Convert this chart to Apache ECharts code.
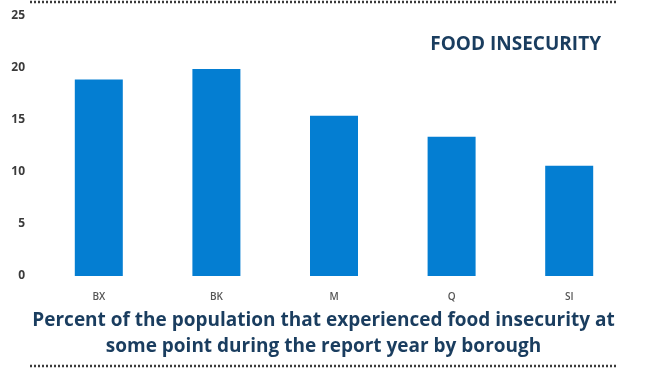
<!DOCTYPE html>
<html>
<head>
<meta charset="utf-8">
<script src="https://cdn.jsdelivr.net/npm/echarts@6/dist/echarts.min.js"></script>
<style>
  html, body { margin: 0; padding: 0; background: #ffffff; }
  #chart { width: 647px; height: 370px; }
</style>
</head>
<body>
<div id="chart"></div>
<script>
// Boroughs and the share of residents who were food insecure (%)
const boroughs = ['BX', 'BK', 'M', 'Q', 'SI'];
const insecurityPct = [18.9, 19.9, 15.4, 13.4, 10.6];

const titleText = 'FOOD INSECURITY';
const captionLines = [
  'Percent of the population that experienced food insecurity at',
  'some point during the report year by borough'
];

const navy = '#1a3d5f';
const chart = echarts.init(document.getElementById('chart'));

chart.setOption({
  backgroundColor: '#ffffff',
  animation: false,
  grid: { left: 40, right: 19, top: 16, bottom: 94 },
  title: {
    text: titleText,
    right: 41,
    top: 30,
    textStyle: {
      fontFamily: 'Open Sans',
      fontWeight: 700,
      fontSize: 19,
      color: navy
    }
  },
  xAxis: {
    type: 'category',
    data: boroughs,
    axisLine: { show: false },
    axisTick: { show: false },
    axisLabel: {
      margin: 16,
      fontFamily: 'Open Sans',
      fontWeight: 600,
      fontSize: 10,
      color: '#555'
    }
  },
  yAxis: {
    type: 'value',
    min: 0,
    max: 25,
    interval: 5,
    splitLine: { show: false },
    axisLine: { show: false },
    axisTick: { show: false },
    axisLabel: {
      margin: 15,
      fontFamily: 'Open Sans',
      fontWeight: 700,
      fontSize: 12,
      color: '#3a3a3a'
    }
  },
  series: [{
    type: 'bar',
    data: insecurityPct,
    barWidth: 48,
    itemStyle: { color: '#047ed2' }
  }],
  graphic: [
    {
      type: 'line',
      shape: { x1: 30, y1: 2, x2: 617, y2: 2 },
      style: { stroke: '#3a3a3a', lineWidth: 2.5, lineDash: [2, 2] }
    },
    {
      type: 'line',
      shape: { x1: 30, y1: 366, x2: 617, y2: 366 },
      style: { stroke: '#3a3a3a', lineWidth: 2.5, lineDash: [2, 2] }
    },
    {
      type: 'text',
      left: 'center',
      top: 308,
      style: {
        text: captionLines.join('\n'),
        textAlign: 'center',
        fontFamily: 'Open Sans',
        fontWeight: 700,
        fontSize: 19,
        lineHeight: 26,
        fill: navy
      }
    }
  ]
});
</script>
</body>
</html>
